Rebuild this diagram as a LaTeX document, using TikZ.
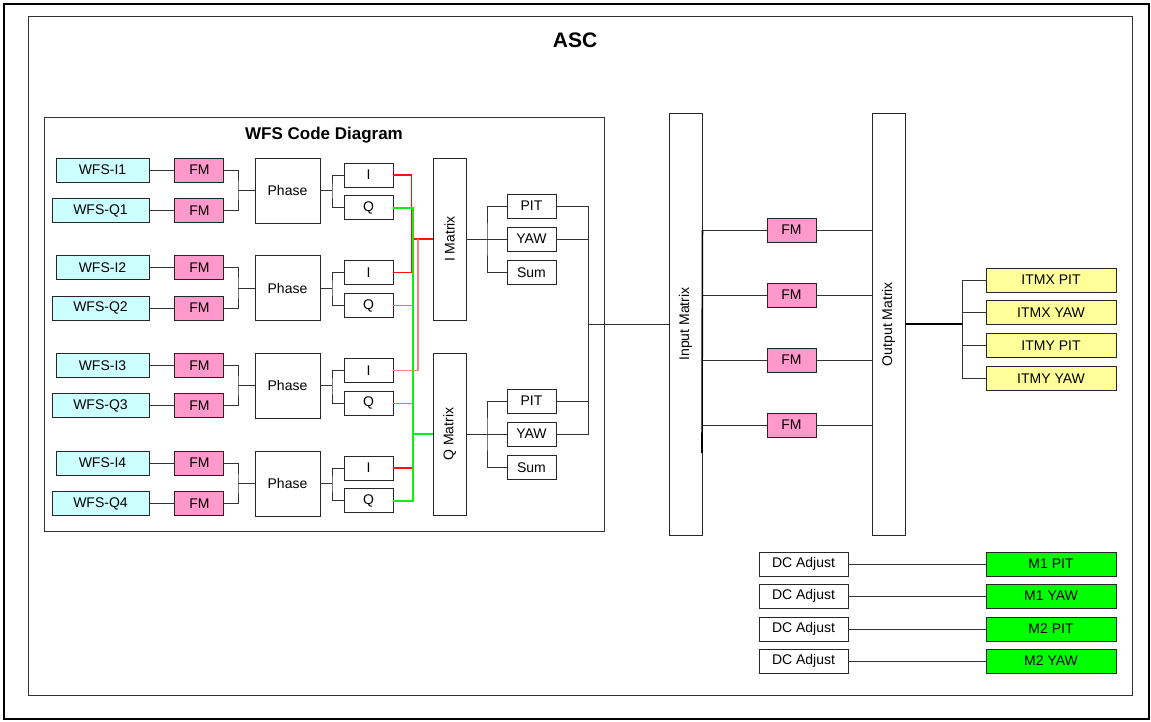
\documentclass[tikz,border=0pt]{standalone}
\usepackage{fontspec}
\setmainfont{Liberation Sans}
\usepackage{tikz}
\usetikzlibrary{positioning}
\definecolor{wfscyan}{HTML}{CCFFFF}
\definecolor{fmpink}{HTML}{FF99CC}
\definecolor{itmyellow}{HTML}{FFFF99}
\definecolor{mgreen}{HTML}{00FF00}
\definecolor{wirered}{HTML}{FF1010}
\definecolor{wirepink}{HTML}{FF8080}
\definecolor{wiregreen}{HTML}{10EE10}

\begin{document}
\begin{tikzpicture}[
    x=1pt, y=-1pt, line width=0.9pt,
    box/.style={draw=black!85, fill=white, inner sep=0pt, minimum height=24pt,
    font=\fontsize{14}{16}\selectfont},
    wfs/.style={box, fill=wfscyan, minimum width=93pt},
    fm/.style={box, fill=fmpink, minimum width=49pt},
    small/.style={box, minimum width=49pt},
    mat/.style={box, minimum width=33pt},
    itm/.style={box, fill=itmyellow, minimum width=130pt},
    mir/.style={box, fill=mgreen, minimum width=130pt},
    dcadj/.style={box, minimum width=89pt},
    wire/.style={draw=black!80},
    redwire/.style={draw=wirered, line width=1.4pt},
    pinkwire/.style={draw=wirepink, line width=1.4pt},
    greenwire/.style={draw=wiregreen, line width=1.4pt},
    frame/.style={draw=black!80, inner sep=0pt}
]
\useasboundingbox (0,0) rectangle (1151,721);
\node[frame, draw=black, line width=1.6pt, minimum width=1145pt, minimum height=715pt] (page) at (576.5,361.5) {};
\node[frame, minimum width=1104pt, minimum height=679pt] (asc) at (580,355.5) {};
\node[font=\bfseries\fontsize{21}{24}\selectfont] (asctitle) at (575,40) {ASC};
\node[frame, minimum width=560pt, minimum height=414pt] (wfsframe) at (324,324) {};
\node[font=\bfseries\fontsize{17}{20}\selectfont] (wfstitle) at (324,135) {WFS Code Diagram};

% sensor groups
\foreach \g in {1,...,4}{
  \pgfmathsetmacro\gy{158+97.67*(\g-1)}
  \node[wfs] (wi\g) at (102.5,\gy+12) {WFS-I\g};
  \node[wfs, minimum width=97pt] (wq\g) at (100.5,\gy+52.5) {WFS-Q\g};
  \node[fm, right=25pt of wi\g] (fi\g) {FM};
  \node[fm, right=25pt of wq\g] (fq\g) {FM};
  \node[box, minimum width=65pt, minimum height=65pt] (ph\g) at (287.5,\gy+32.5) {Phase};
  \node[small] (i\g) at (368.5,\gy+17) {I};
  \node[small, below=8pt of i\g] (q\g) {Q};
  \coordinate (jf\g) at (238,\gy+32.5);
  \coordinate (jp\g) at (332,\gy+32.5);
  \draw[wire] (wi\g) -- (fi\g);
  \draw[wire] (wq\g) -- (fq\g);
  \draw[wire] (fi\g.east) -| (jf\g) |- (fq\g.east);
  \draw[wire] (jf\g) -- (ph\g);
  \draw[wire] (ph\g) -- (jp\g);
  \draw[wire] (i\g.west) -| (jp\g) |- (q\g.west);
}

% I / Q matrices
\node[mat, minimum height=162pt] (imat) at (449.5,239) {\rotatebox{90}{I Matrix}};
\node[mat, minimum height=162pt] (qmat) at (449.5,434) {\rotatebox{90}{Q Matrix}};
\coordinate (rj) at (411.5,239);
\coordinate (rk) at (418,239);
\coordinate (gj) at (413,434);
\draw[redwire] (i1.east) -| (rj) |- (i2.east);
\draw[redwire] (rj) -- (imat);
\draw[pinkwire] (i3.east) -| (rk);
\draw[redwire] (i4.east) -| (gj);
\draw[greenwire] (q1.east) -| (gj) |- (q4.east);
\draw[greenwire] (q2.east) -| (gj);
\draw[greenwire] (q3.east) -| (gj);
\draw[greenwire] (gj) -- (qmat);

\foreach \s/\sy in {i/239,q/434}{
  \node[small] (\s yaw) at (531.5,\sy) {YAW};
  \node[small, above=8pt of \s yaw] (\s pit) {PIT};
  \node[small, below=9pt of \s yaw] (\s sum) {Sum};
  \coordinate (m\s) at (487,\sy);
  \draw[wire] (\s mat) -- (\s yaw);
  \draw[wire] (\s pit.west) -| (m\s) |- (\s sum.west);
}

% input matrix, filters, output matrix
\node[mat, minimum height=422pt] (inmat) at (685.5,324) {\rotatebox{90}{Input Matrix}};
\node[mat, minimum height=422pt] (outmat) at (888.5,324) {\rotatebox{90}{Output Matrix}};
\coordinate (bus) at (588,324);
\draw[wire] (ipit.east) -| (bus) |- (qyaw.east);
\draw[wire] (iyaw.east) -| (bus);
\draw[wire] (qpit.east) -| (bus);
\draw[wire] (bus) -- (inmat);

\foreach \k/\y in {1/230,2/295,3/360,4/425}{
  \node[fm] (fo\k) at (791.5,\y) {FM};
  \draw[wire] (inmat.east |- fo\k) -- (fo\k) -- (outmat.west |- fo\k);
}
\coordinate (inbus) at (702,453);
\draw[wire, draw=black, line width=1.6pt] (inmat.east |- fo1) -- (inbus);

\node[itm] (y1) at (1051,280) {ITMX PIT};
\node[itm, below=8pt of y1] (y2) {ITMX YAW};
\node[itm, below=8pt of y2] (y3) {ITMY PIT};
\node[itm, below=8pt of y3] (y4) {ITMY YAW};
\coordinate (ob) at (962,324);
\draw[wire, draw=black, line width=1.6pt] (outmat) -- (ob);
\draw[wire] (y1.west) -| (ob) |- (y4.west);
\draw[wire] (y2.west) -| (ob);
\draw[wire] (y3.west) -| (ob);

% DC adjust
\foreach \k/\y/\mlabel in {1/564/M1 PIT,2/596/M1 YAW,3/629/M2 PIT,4/661/M2 YAW}{
  \node[dcadj] (dc\k) at (803.5,\y) {DC Adjust};
  \node[mir] (mr\k) at (1051,\y) {\mlabel};
  \draw[wire] (dc\k) -- (mr\k);
}
\end{tikzpicture}
\end{document}
